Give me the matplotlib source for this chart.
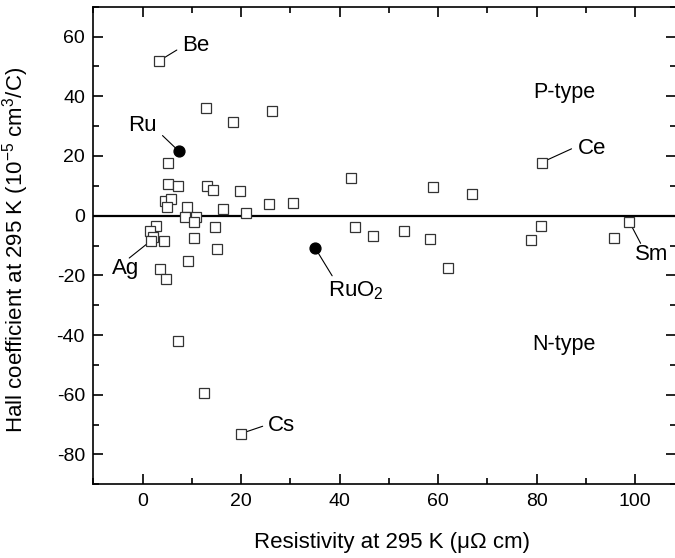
import matplotlib
matplotlib.use("Agg")
import matplotlib.pyplot as plt
from matplotlib.ticker import MultipleLocator

plt.rcParams['font.family'] = ['Liberation Sans', 'DejaVu Sans']
plt.rcParams['mathtext.fontset'] = 'custom'
plt.rcParams['mathtext.rm'] = 'Liberation Sans'
plt.rcParams['mathtext.it'] = 'Liberation Sans:italic'
plt.rcParams['axes.unicode_minus'] = False

# Open squares: elements (resistivity, Hall coefficient)
rho_open = [3.3, 12.8, 18.4, 26.3, 5.2, 5.2, 7.2, 13.0, 14.4, 19.8, 4.5, 5.8, 5.0,
            9.0, 16.3, 25.6, 30.5, 20.9, 8.6, 10.9, 10.4, 14.8, 2.7, 1.5, 2.2, 1.7,
            4.3, 10.5, 15.2, 9.3, 3.5, 4.7, 42.4, 58.9, 66.9, 81.0, 43.1, 46.8,
            53.0, 58.4, 62.0, 80.9, 78.9, 95.8, 98.8, 7.1, 12.5, 20.0]
hall_open = [51.8, 36.2, 31.4, 34.9, 17.8, 10.7, 10.0, 10.1, 8.7, 8.2, 5.0, 5.5, 3.0,
             2.9, 2.1, 3.8, 4.4, 0.9, -0.3, -0.3, -2.2, -3.9, -3.6, -5.0, -7.1, -8.4,
             -8.4, -7.5, -11.2, -15.1, -17.8, -21.1, 12.5, 9.5, 7.1, 17.8, -3.7, -6.7,
             -5.3, -7.7, -17.4, -3.4, -8.0, -7.6, -2.0, -42.1, -59.4, -73.0]

# Filled circles: Ru and RuO2
rho_filled = [7.3, 35.1]
hall_filled = [21.7, -11.0]

# Labelled points
lab_names = ['Be', 'Ru', 'Ag', 'RuO$_2$', 'Ce', 'Sm', 'Cs']
lab_rho = [3.3, 7.3, 1.7, 35.1, 81.0, 98.8, 20.0]
lab_hall = [51.8, 21.7, -8.4, -11.0, 17.8, -2.0, -73.0]

fig = plt.figure(figsize=(6.75, 5.58), dpi=100)
ax = fig.add_axes([93.3 / 675, (558 - 484.3) / 558, (676 - 93.3) / 675, (484.3 - 6.7) / 558])

ax.axhline(0, color='black', lw=1.6, zorder=1)

ax.plot(rho_open, hall_open, linestyle='none', marker='s', markersize=7.4,
        markerfacecolor='white', markeredgecolor='#333333', markeredgewidth=0.9, zorder=3)
ax.plot(rho_filled, hall_filled, linestyle='none', marker='o', markersize=7.8,
        markerfacecolor='black', markeredgecolor='black', zorder=4)

# label placement (pixel offsets): line end, text pos, ha
lab_style = {
    'Be': ((18, 11), (23.7, 16), 'left'),
    'Ru': ((-16, 15.3), (-22.3, 25.3), 'right'),
    'Ag': ((-21.7, -17.3), (-25.7, -28), 'center'),
    'RuO$_2$': ((16.7, -27.3), (13, -42), 'left'),
    'Ce': ((30, 13.7), (36.6, 14.5), 'left'),
    'Sm': ((11.4, -21.7), (22, -33), 'center'),
    'Cs': ((21.6, 7.3), (26.6, 8.3), 'left'),
}
for name, xr, yh in zip(lab_names, lab_rho, lab_hall):
    e, t, ha = lab_style[name]
    ax.annotate('', xy=(xr, yh), xytext=e, textcoords='offset pixels',
                arrowprops=dict(arrowstyle='-', color='black', lw=0.8,
                                shrinkA=0, shrinkB=0, relpos=(0, 0)),
                zorder=2)
    ax.annotate(name, xy=(xr, yh), xytext=t, textcoords='offset pixels',
                ha=ha, va='center', fontsize=16)

ax.text(85.6, 41.3, 'P-type', ha='center', va='center', fontsize=15.5)
ax.text(85.6, -43.3, 'N-type', ha='center', va='center', fontsize=15.5)

ax.set_xlim(-10, 108.3)
ax.set_ylim(-90, 70)
ax.xaxis.set_major_locator(MultipleLocator(20))
ax.xaxis.set_minor_locator(MultipleLocator(10))
ax.yaxis.set_major_locator(MultipleLocator(20))
ax.yaxis.set_minor_locator(MultipleLocator(10))
ax.tick_params(which='both', direction='in', top=True, right=True, width=1.2)
ax.tick_params(which='major', length=7, labelsize=14, pad=6)
ax.tick_params(which='minor', length=4)
for sp in ax.spines.values():
    sp.set_linewidth(1.2)

ax.set_xlabel('Resistivity at 295 K (μΩ cm)', fontsize=16)
ax.set_ylabel('Hall coefficient at 295 K (10$^{-5}$ cm$^3$/C)', fontsize=16)
ax.xaxis.set_label_coords((392 - 93.3) / (676 - 93.3), -(532 - 484.3) / (484.3 - 6.7))
ax.yaxis.set_label_coords(-(93.3 - 31) / (676 - 93.3), (484.3 - 250) / (484.3 - 6.7))

fig.savefig('out.png', dpi=100)
